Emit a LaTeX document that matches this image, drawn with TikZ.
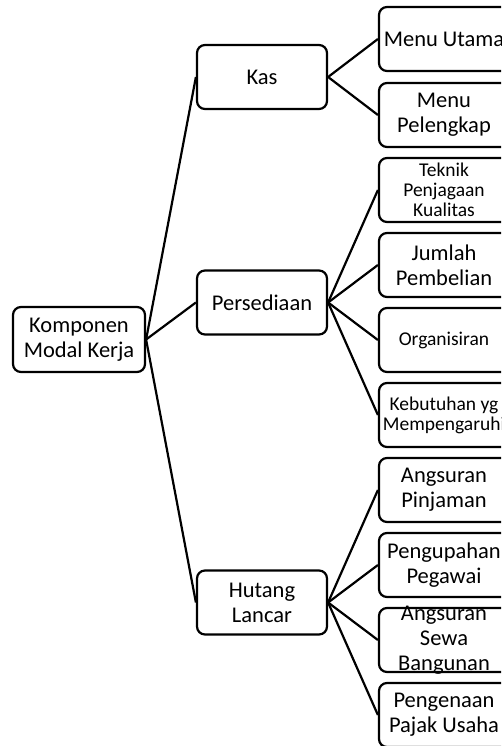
\documentclass[tikz,border=0pt]{standalone}
\usepackage{fontspec}
\setmainfont{Carlito}
\newcommand{\px}{1pt}
\begin{document}
\begin{tikzpicture}[x=\px,y=-\px]
\useasboundingbox (0,0) rectangle (501,746);
\clip (0,0) rectangle (501,746);
\tikzstyle{every node}=[draw,
			rectangle,
			rounded corners=8*\px,
			line width=2.2*\px,
			align=center,
			inner sep=0pt,
			font=\fontsize{22.5}{25}\selectfont
			]
\tikzstyle{mid box}=[minimum width=130*\px, minimum height=64*\px]
\tikzstyle{leaf box}=[minimum width=130*\px, minimum height=64*\px]
\tikzstyle{small text}=[font=\fontsize{19.5}{20}\selectfont]
\tikzstyle{link}=[line width=2.2*\px]

% root
\node[minimum width=132*\px, minimum height=65*\px] (root) at (79,339.5) {Komponen\\Modal Kerja};

% second level
\node[mid box] (kas) at (262,77) {Kas};
\node[mid box] (sedia) at (262,302.5) {Persediaan};
\node[mid box] (hutang) at (262,602.5) {Hutang\\Lancar};

% leaves
\node[leaf box] (utama) at (444,39) {Menu Utama};
\node[leaf box] (lengkap) at (444,115) {Menu\\Pelengkap};
\node[leaf box, small text] (teknik) at (444,190) {Teknik\\Penjagaan\\Kualitas};
\node[leaf box] (jumlah) at (444,265) {Jumlah\\Pembelian};
\node[leaf box, small text] (organ) at (444,340) {Organisiran};
\node[leaf box, small text] (butuh) at (444,415) {Kebutuhan yg\\Mempengaruhi};
\node[leaf box] (pinjam) at (444,490) {Angsuran\\Pinjaman};
\node[leaf box] (upah) at (444,565) {Pengupahan\\Pegawai};
\node[leaf box, inner ysep=-8*\px] (sewa) at (444,640) {Angsuran\\Sewa\\Bangunan};
\node[leaf box] (pajak) at (444,715) {Pengenaan\\Pajak Usaha};

\draw[link] (root.east) -- (kas.west);
\draw[link] (root.east) -- (sedia.west);
\draw[link] (root.east) -- (hutang.west);

\draw[link] (kas.east) -- (utama.west);
\draw[link] (kas.east) -- (lengkap.west);

\draw[link] (sedia.east) -- (teknik.west);
\draw[link] (sedia.east) -- (jumlah.west);
\draw[link] (sedia.east) -- (organ.west);
\draw[link] (sedia.east) -- (butuh.west);

\draw[link] (hutang.east) -- (pinjam.west);
\draw[link] (hutang.east) -- (upah.west);
\draw[link] (hutang.east) -- (sewa.west);
\draw[link] (hutang.east) -- (pajak.west);
\end{tikzpicture}
\end{document}
